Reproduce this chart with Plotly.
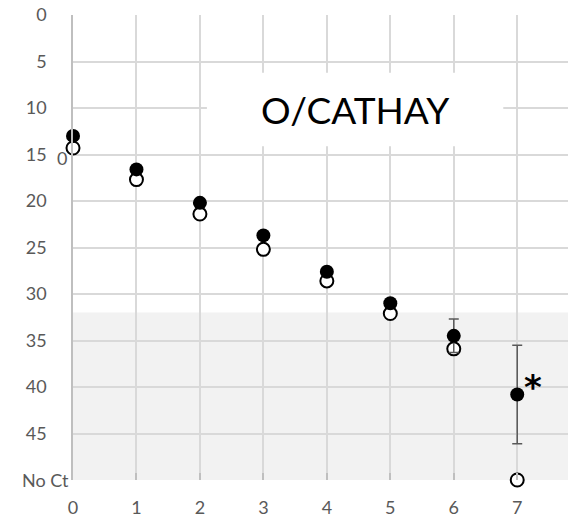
import plotly.graph_objects as go

# Dilution step on the x axis, Ct value on the (reversed) y axis
steps = [0, 1, 2, 3, 4, 5, 6, 7]
ct_filled = [13.0, 16.6, 20.2, 23.7, 27.6, 31.0, 34.5, 40.8]
err_filled = [0, 0, 0, 0, 0, 0, 1.8, 5.3]
ct_open = [14.3, 17.7, 21.4, 25.2, 28.6, 32.1, 35.9, 50.0]

y_ticks = [0, 5, 10, 15, 20, 25, 30, 35, 40, 45, 50]
y_ticktext = ["0", "5", "10", "15", "20", "25", "30", "35", "40", "45", "No Ct"]
x_ticks = [0, 1, 2, 3, 4, 5, 6, 7]

shade_from = 32.0
no_ct = 50.0

FONT = "Lato"
GRID = "#d9d9d9"
AXIS = "#bfbfbf"
TXT = "#595959"

# the "No Ct" label sits closer to the axis than the numeric ones,
# so it is drawn separately as an annotation
y_labels = ["" if t == "No Ct" else t for t in y_ticktext]

fig = go.Figure()

fig.add_trace(go.Scatter(
    x=steps, y=ct_open, mode="markers",
    marker=dict(size=13, color="white", line=dict(color="black", width=2)),
    showlegend=False, cliponaxis=False,
))
fig.add_trace(go.Scatter(
    x=steps, y=ct_filled, mode="markers",
    marker=dict(size=14, color="black", line=dict(color="black", width=0)),
    error_y=dict(type="data", array=err_filled, color=TXT, thickness=1.5, width=5),
    showlegend=False, cliponaxis=False,
))

# grey band for late / undetected amplification
fig.add_shape(type="rect", xref="paper", yref="y", x0=0, x1=1, y0=shade_from, y1=no_ct,
              fillcolor="#f2f2f2", line=dict(width=0), layer="below")

# no gridline along the top edge
fig.add_shape(type="line", xref="paper", yref="y", x0=0.004, x1=1, y0=0, y1=0,
              line=dict(color="white", width=3), layer="between")

# title box
fig.add_shape(type="rect", xref="x", yref="y", x0=2.11, x1=6.78, y0=6.2, y1=14.1,
              fillcolor="white", line=dict(width=0), layer="between")
fig.add_annotation(x=4.45, y=10.2, xref="x", yref="y", text="O/CATHAY", showarrow=False,
                   font=dict(family=FONT, size=37, color="black"))

fig.add_annotation(x=7.25, y=39.95, xref="x", yref="y", text="<b>*</b>", showarrow=False,
                   font=dict(family="DejaVu Sans", size=34, color="black"))
fig.add_annotation(x=-0.037, y=15.4, xref="paper", yref="y", text="0", showarrow=False,
                   font=dict(family=FONT, size=18, color=TXT))
fig.add_annotation(x=-0.005, y=no_ct, xref="paper", yref="y", text=y_ticktext[-1],
                   showarrow=False, xanchor="right", yanchor="middle",
                   font=dict(family=FONT, size=18, color=TXT))

fig.update_xaxes(range=[0, 7.8], tickvals=x_ticks, showgrid=True, gridcolor=GRID, gridwidth=1.5,
                 zeroline=False, showline=False, ticks="inside", ticklen=7, tickcolor=AXIS,
                 tickwidth=1.5, ticklabelstandoff=15,
                 tickfont=dict(family=FONT, size=18, color=TXT))
fig.update_yaxes(range=[50, 0], tickvals=y_ticks, ticktext=y_labels, showgrid=True,
                 gridcolor=GRID, gridwidth=1.5, zeroline=False, showline=True, linecolor=AXIS,
                 linewidth=1.5, ticks="", ticklabelstandoff=21,
                 tickfont=dict(family=FONT, size=18, color=TXT))

fig.update_layout(
    width=568, height=518,
    margin=dict(l=73, r=0, t=15, b=38),
    plot_bgcolor="white", paper_bgcolor="white",
)

fig.write_html("out.html")
